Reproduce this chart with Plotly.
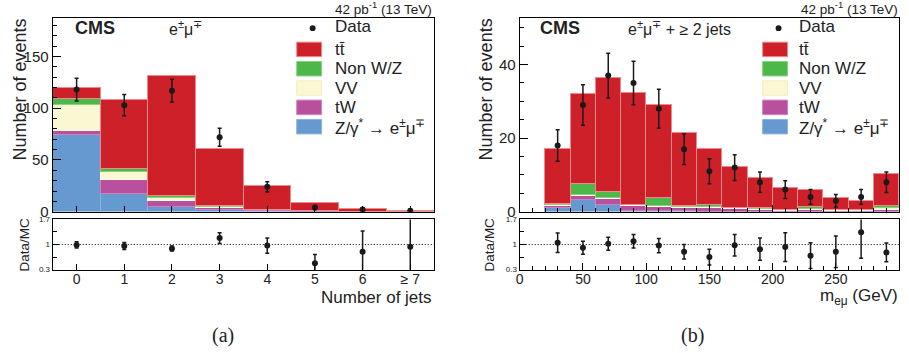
import plotly.graph_objects as go

W, H = 909, 353

# ---------------- data: left panel (number of jets) ----------------
jet_bins = [0, 1, 2, 3, 4, 5, 6, 7]
jet_ticktext = ["0", "1", "2", "3", "4", "5", "6", "≥ 7"]
jet_dy = [74.5, 17.7, 4.7, 1.8, 0.8, 0.3, 0.1, 0.05]
jet_tw = [3.8, 13.3, 6.2, 2.2, 1.2, 0.4, 0.15, 0.05]
jet_vv = [25.1, 8.0, 3.1, 1.2, 0.3, 0.1, 0.05, 0.02]
jet_nonwz = [6.2, 3.0, 1.8, 0.4, 0.2, 0.1, 0.05, 0.02]
jet_tt = [10.9, 66.0, 116.2, 55.9, 22.5, 7.5, 2.45, 1.06]
jet_data = [118, 103, 117, 72, 24, 4, 2, 1]
jet_data_err = [11.0, 10.3, 11.0, 8.7, 5.0, 2.0, 1.4, 1.1]
jet_ratio = [0.99, 0.96, 0.89, 1.18, 0.97, 0.48, 0.80, 0.94]
jet_ratio_err = [0.09, 0.10, 0.07, 0.15, 0.21, 0.24, 0.58, 1.0]

# ---------------- data: right panel (m_emu) ----------------
m_centers = [30, 50, 70, 90, 110, 130, 150, 170, 190, 210, 230, 250, 270, 290]
m_dy = [1.1, 3.2, 2.0, 0.25, 0.2, 0.2, 0.15, 0.1, 0.1, 0.05, 0.05, 0.05, 0.05, 0.05]
m_tw = [0.6, 1.2, 1.5, 1.3, 1.2, 1.0, 0.9, 0.75, 0.6, 0.4, 0.45, 0.35, 0.35, 0.5]
m_vv = [0.2, 0.3, 0.4, 0.3, 0.35, 0.3, 0.35, 0.15, 0.2, 0.15, 0.3, 0.1, 0.1, 0.6]
m_nonwz = [0.2, 2.9, 1.7, 0.2, 2.0, 0.2, 0.45, 0.15, 0.1, 0.05, 0.6, 0.1, 0.2, 0.5]
m_tt = [15.2, 24.4, 31.0, 30.4, 25.5, 19.9, 15.2, 11.2, 8.4, 5.9, 4.5, 3.3, 2.3, 8.7]
m_data = [18, 29, 37, 35, 28, 17, 11, 12, 8, 6, 4, 3, 4, 8]
m_data_err = [4.3, 5.5, 6.1, 5.9, 5.3, 4.2, 3.4, 3.5, 2.8, 2.4, 2.0, 1.7, 2.0, 2.8]
m_ratio = [1.05, 0.91, 1.02, 1.09, 0.97, 0.80, 0.65, 0.98, 0.87, 0.93, 0.69, 0.80, 1.34, 0.78]
m_ratio_err = [0.27, 0.18, 0.18, 0.19, 0.20, 0.20, 0.22, 0.30, 0.31, 0.40, 0.36, 0.44, 0.72, 0.26]

m_ticks = [0, 50, 100, 150, 200, 250, 300]

# ---------------- styles ----------------
proc_names = ["Z/γ<sup>*</sup> → e<sup>±</sup>μ<sup>∓</sup>", "tW", "VV", "Non W/Z", "tt̄"]
proc_colors = ["#6599cf", "#b9509e", "#faf8d2", "#4db849", "#ce2028"]
proc_edges = ["#8ab4de", "#d17fbd", "#fffbe8", "#86d27f", "#ec8a8e"]
legend_labels = ["Data", "tt̄", "Non W/Z", "VV", "tW",
                 "Z/γ<sup>*</sup> → e<sup>±</sup>μ<sup>∓</sup>"]
FONT = "Liberation Sans"
SERIF = "Liberation Serif"


def px(x):
    return x / W


def py(y):
    return 1 - y / H


fig = go.Figure()

# stacked backgrounds
for comps, xs, width, xa, ya in [
    ([jet_dy, jet_tw, jet_vv, jet_nonwz, jet_tt], jet_bins, 1.0, "x", "y"),
    ([m_dy, m_tw, m_vv, m_nonwz, m_tt], m_centers, 20.0, "x2", "y2"),
]:
    for vals, name, col, edge in zip(comps, proc_names, proc_colors, proc_edges):
        fig.add_trace(go.Bar(
            x=xs, y=vals, width=width, name=name, showlegend=False,
            marker=dict(color=col, line=dict(color=edge, width=1)),
            xaxis=xa, yaxis=ya,
        ))

# data points
for xs, ys, es, xa, ya in [
    (jet_bins, jet_data, jet_data_err, "x", "y"),
    (m_centers, m_data, m_data_err, "x2", "y2"),
    (jet_bins, jet_ratio, jet_ratio_err, "x3", "y3"),
    (m_centers, m_ratio, m_ratio_err, "x4", "y4"),
]:
    fig.add_trace(go.Scatter(
        x=xs, y=ys, mode="markers", showlegend=False,
        marker=dict(color="#1a1a1a", size=6),
        error_y=dict(type="data", array=es, color="#1a1a1a", thickness=1.5, width=2),
        xaxis=xa, yaxis=ya,
    ))

axis_common = dict(showline=True, mirror=True, linecolor="black", linewidth=1.3,
                   showgrid=False, zeroline=False, ticks="inside", tickcolor="black",
                   tickfont=dict(family=FONT, size=14, color="#222"))

LX = [px(49), px(432)]
RX = [px(518), px(899)]
MAINY = [py(215), py(14)]
RATY = [py(275), py(223)]

fig.update_layout(
    width=W, height=H, margin=dict(l=0, r=0, t=0, b=0),
    paper_bgcolor="white", plot_bgcolor="white",
    barmode="stack", bargap=0, showlegend=False,
    font=dict(family=FONT, color="#222"),
    xaxis=dict(axis_common, domain=LX, range=[-0.5, 7.5], tickvals=jet_bins,
               showticklabels=False, ticklen=6, anchor="y"),
    yaxis=dict(axis_common, domain=MAINY, range=[0, 187.7], tickvals=[0, 50, 100, 150],
               ticklen=8, minor=dict(dtick=10, tick0=0, ticks="inside", ticklen=4, tickcolor="black"),
               tickfont=dict(family=FONT, size=15, color="#222"), anchor="x"),
    xaxis2=dict(axis_common, domain=RX, range=[0, 300], tickvals=m_ticks,
                showticklabels=False, ticklen=7,
                minor=dict(dtick=10, tick0=0, ticks="inside", ticklen=4, tickcolor="black"),
                anchor="y2"),
    yaxis2=dict(axis_common, domain=MAINY, range=[0, 52.8], tickvals=[0, 20, 40],
                ticklen=8, minor=dict(dtick=5, tick0=0, ticks="inside", ticklen=4, tickcolor="black"),
                tickfont=dict(family=FONT, size=15, color="#222"), anchor="x2"),
    xaxis3=dict(axis_common, domain=LX, range=[-0.5, 7.5], tickvals=jet_bins,
                ticktext=jet_ticktext, ticklen=6, ticklabelstandoff=-4, anchor="y3"),
    yaxis3=dict(axis_common, domain=RATY, range=[0.3, 1.7], tickvals=[0.3, 1, 1.7],
                ticktext=["0.3", "1", "1.7"], ticklen=6,
                minor=dict(tickvals=[0.65, 1.35], ticks="inside", ticklen=4, tickcolor="black"),
                tickfont=dict(family=FONT, size=8, color="#222"), anchor="x3"),
    xaxis4=dict(axis_common, domain=RX, range=[0, 300], tickvals=m_ticks, ticklen=7,
                ticklabelstandoff=-4,
                minor=dict(dtick=10, tick0=0, ticks="inside", ticklen=4, tickcolor="black"),
                anchor="y4"),
    yaxis4=dict(axis_common, domain=RATY, range=[0.3, 1.7], tickvals=[0.3, 1, 1.7],
                ticktext=["0.3", "1", "1.7"], ticklen=6,
                minor=dict(tickvals=[0.65, 1.35], ticks="inside", ticklen=4, tickcolor="black"),
                tickfont=dict(family=FONT, size=8, color="#222"), anchor="x4"),
)

shapes = []
annotations = []

# dotted unity lines in ratio panels
for xr, yr in [("x3 domain", "y3"), ("x4 domain", "y4")]:
    shapes.append(dict(type="line", xref=xr, yref=yr, x0=0, x1=1, y0=1, y1=1,
                       line=dict(color="black", width=1, dash="1px,2px"), layer="below"))


def ann(text, x, y, size, xanchor="center", yanchor="middle", angle=0, family=FONT, color="#222"):
    annotations.append(dict(text=text, x=px(x), y=py(y), xref="paper", yref="paper",
                            xanchor=xanchor, yanchor=yanchor, textangle=angle, showarrow=False,
                            font=dict(family=family, size=size, color=color)))


# legends
row_y = [25, 47, 67, 87, 107, 127]
legend_colors = ["#ce2028", "#4db849", "#faf8d2", "#b9509e", "#6599cf"]
legend_edges = ["#ec8a8e", "#86d27f", "#f3efc0", "#d17fbd", "#8ab4de"]
for bx0, tx in [(294, 330), (762, 797)]:
    cx = bx0 + 16
    shapes.append(dict(type="circle", xref="paper", yref="paper",
                       x0=px(cx - 3), x1=px(cx + 3), y0=py(row_y[0] + 3), y1=py(row_y[0] - 3),
                       fillcolor="#1a1a1a", line=dict(width=0)))
    for i, lab in enumerate(legend_labels):
        ann(lab, tx, row_y[i] - (2 if i == 0 else 0), 17, xanchor="left")
        if i > 0:
            shapes.append(dict(type="rect", xref="paper", yref="paper",
                               x0=px(bx0), x1=px(bx0 + 25),
                               y0=py(row_y[i] + 7.5), y1=py(row_y[i] - 7.5),
                               fillcolor=legend_colors[i - 1],
                               line=dict(color=legend_edges[i - 1], width=1)))

# headers
ann("<b>CMS</b>", 91, 25, 18)
ann("e<sup>±</sup>μ<sup>∓</sup>", 182, 25, 16)
ann("<b>CMS</b>", 558, 25, 18)
ann("e<sup>±</sup>μ<sup>∓</sup> + ≥ 2 jets", 678, 25, 16)
ann("42 pb<sup>-1</sup> (13 TeV)", 432, 4, 13.5, xanchor="right")
ann("42 pb<sup>-1</sup> (13 TeV)", 900, 4, 13.5, xanchor="right")

# axis titles
ann("Number of events", 16, 13, 18, yanchor="top", angle=-90)
ann("Number of events", 484, 13, 18, yanchor="top", angle=-90)
ann("Data/MC", 21, 249, 13.5, angle=-90)
ann("Data/MC", 488, 249, 13.5, angle=-90)
ann("Number of jets", 432, 304, 17, xanchor="right")
ann("m<sub>eμ</sub> (GeV)", 900, 303, 17, xanchor="right")

# captions
ann("(a)", 220, 343, 20, family=SERIF)
ann("(b)", 692, 343, 20, family=SERIF)

fig.update_layout(shapes=shapes, annotations=annotations)
fig.write_html("out.html")
